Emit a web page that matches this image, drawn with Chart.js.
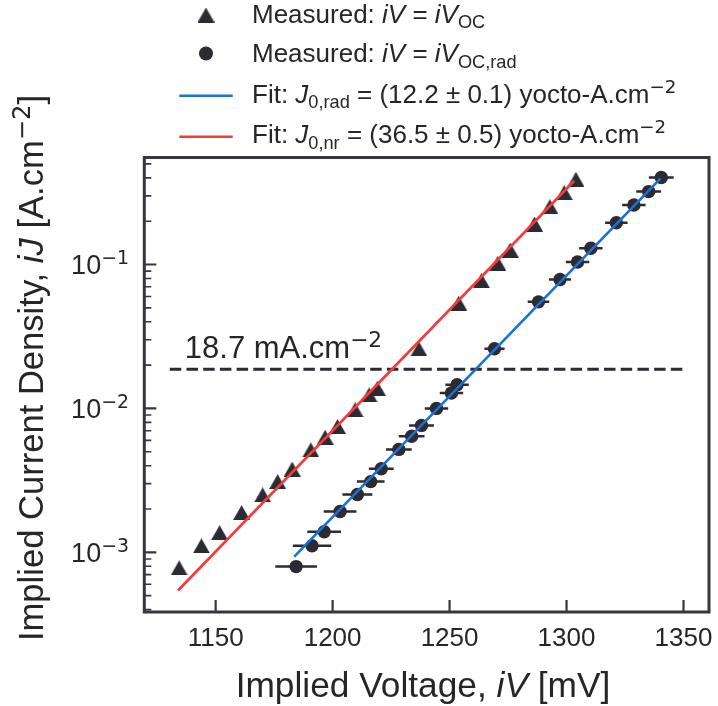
<!DOCTYPE html>
<html><head><meta charset="utf-8">
<script src="https://cdn.jsdelivr.net/npm/chart.js@4.4.1/dist/chart.umd.min.js"></script>
<style>html,body{margin:0;padding:0;background:#fff;}canvas{display:block;}</style>
</head><body>
<canvas id="c" width="718" height="706"></canvas>
<script>
// ---- data ----
const vocV = [1134.4,1143.9,1151.7,1161.1,1170.1,1176.5,1182.7,1190.7,1196.8,1202.1,1209.6,1215.6,1219.1,1236.9,1253.9,1263.6,1270.6,1275.9,1286.3,1292.9,1299.0,1304.0];
const vocJ = [7.8e-4,1.11e-3,1.37e-3,1.89e-3,2.51e-3,3.10e-3,3.79e-3,5.15e-3,6.31e-3,7.48e-3,9.77e-3,1.24e-2,1.38e-2,0.0259,0.0538,0.0772,0.102,0.126,0.191,0.252,0.316,0.391];
const radV = [1184.4,1191.2,1196.4,1203.2,1210.6,1216.3,1220.8,1228.3,1233.8,1238.0,1244.4,1250.8,1253.2,1269.2,1288.0,1297.2,1304.7,1310.4,1321.3,1328.8,1335.1,1340.5];
const radVerr = [8.9,8.2,7.2,7.0,6.4,5.9,5.3,5.5,5.5,5.3,5.0,5.0,5.0,4.3,4.6,4.7,5.0,5.0,4.8,5.0,5.3,5.3];
const radJ = [7.96e-4,1.11e-3,1.39e-3,1.92e-3,2.52e-3,3.10e-3,3.81e-3,5.19e-3,6.41e-3,7.62e-3,1.0e-2,1.28e-2,1.46e-2,0.026,0.055,0.0787,0.104,0.1296,0.195,0.259,0.321,0.402];
const fitNrV = [1133.9,1303.3];
const fitNrJ = [5.43e-4,0.382];
const fitRadV = [1183.6,1340.2];
const fitRadJ = [9.35e-4,0.397];
const threshV = [1130.4,1350.1];
const threshJ = [0.0187,0.0187];
const xTicks = [1150,1200,1250,1300,1350];
const yMajor = [1e-3,1e-2,1e-1];
const yMajorExp = ['\u22123','\u22122','\u22121'];
const yMinor = [4e-4,5e-4,6e-4,7e-4,8e-4,9e-4,2e-3,3e-3,4e-3,5e-3,6e-3,7e-3,8e-3,9e-3,2e-2,3e-2,4e-2,5e-2,6e-2,7e-2,8e-2,9e-2,2e-1,3e-1,4e-1,5e-1];
const xRange = [1119.5,1360.9];
const yRange = [3.85e-4,0.554];

// ---- styles ----
const FONT = '"Liberation Sans", Arial, sans-serif';
const MATH = '"DejaVu Sans", sans-serif';
const TXT = '#262626', INK = '#2b2b31', FRAME = '#36363c';
const RED = '#f53a3a', BLUE = '#1c6fd8';

function triImg(w,h,color){const c=document.createElement('canvas');c.width=w;c.height=h;const g=c.getContext('2d');g.fillStyle=color;g.beginPath();g.moveTo(w/2,0);g.lineTo(w,h);g.lineTo(0,h);g.closePath();g.fill();return c;}
const tri = triImg(17,15,INK);

function segFont(st,size){
  if(st==='sup') return {font:(size*0.7)+'px '+MATH,dy:-size*0.38};
  if(st==='sub') return {font:(size*0.7)+'px '+FONT,dy:size*0.22};
  return {font:(st==='i'?'italic ':'')+size+'px '+FONT,dy:0};
}
function richWidth(ctx,segs,size){let w=0;for(const [t,st] of segs){ctx.font=segFont(st,size).font;w+=ctx.measureText(t).width;}return w;}
function drawRich(ctx,segs,x,y,size){let cx=x;ctx.textBaseline='alphabetic';ctx.textAlign='left';for(const [t,st] of segs){const f=segFont(st,size);ctx.font=f.font;ctx.fillText(t,cx,y+f.dy);cx+=ctx.measureText(t).width;}return cx-x;}

const errData=[];
radV.forEach((v,i)=>{errData.push({x:v-radVerr[i],y:radJ[i]},{x:v+radVerr[i],y:radJ[i]},{x:v,y:null});});
const pts=(xs,ys)=>xs.map((v,i)=>({x:v,y:ys[i]}));

const deco = {
  id:'deco',
  afterDraw(chart){
    const ctx=chart.ctx, a=chart.chartArea, xs=chart.scales.x, ys=chart.scales.y;
    ctx.save();
    // frame
    ctx.strokeStyle=FRAME; ctx.lineWidth=3;
    ctx.strokeRect(a.left,a.top,a.right-a.left,a.bottom-a.top);
    // ticks (inward)
    ctx.lineWidth=2.2;
    ctx.beginPath();
    for(const t of xTicks){const p=xs.getPixelForValue(t);ctx.moveTo(p,a.bottom);ctx.lineTo(p,a.bottom-12);}
    for(const t of yMajor){const p=ys.getPixelForValue(t);ctx.moveTo(a.left,p);ctx.lineTo(a.left+12,p);}
    ctx.stroke();
    ctx.lineWidth=1.6;ctx.beginPath();
    for(const t of yMinor){const p=ys.getPixelForValue(t);ctx.moveTo(a.left,p);ctx.lineTo(a.left+7,p);}
    ctx.stroke();
    // tick labels
    ctx.fillStyle=TXT;
    ctx.font='26px '+FONT;ctx.textAlign='center';ctx.textBaseline='alphabetic';
    for(const t of xTicks){ctx.fillText(String(t),xs.getPixelForValue(t),646);}
    yMajor.forEach((t,i)=>{
      const p=ys.getPixelForValue(t);
      const segs=[['10','n'],[yMajorExp[i],'sup']];
      const w=richWidth(ctx,segs,27);
      drawRich(ctx,segs,129-w,p+9.5,27);
    });
    // axis titles
    const xt=[['Implied Voltage, ','n'],['iV','i'],[' [mV]','n']];
    const xw=richWidth(ctx,xt,35.3);
    drawRich(ctx,xt,423-xw/2,697,35.3);
    const yt=[['Implied Current Density, ','n'],['iJ','i'],[' [A.cm','n'],['\u22122','sup'],[']','n']];
    const yw=richWidth(ctx,yt,34.6);
    ctx.save();ctx.translate(43,368);ctx.rotate(-Math.PI/2);drawRich(ctx,yt,-yw/2,0,34.6);ctx.restore();
    // annotation
    const ax=xs.getPixelForValue(threshV[0])+15, ay=ys.getPixelForValue(threshJ[0])-11;
    drawRich(ctx,[['18.7 mA.cm','n'],['\u22122','sup']],ax,ay,31);
    // legend
    const lx=252, ls=26;
    ctx.drawImage(tri,206-tri.width/2,15-tri.height/2);
    ctx.fillStyle=INK;ctx.beginPath();ctx.arc(206,53.5,7,0,Math.PI*2);ctx.fill();
    ctx.lineWidth=2.6;ctx.strokeStyle=BLUE;ctx.beginPath();ctx.moveTo(179.3,95.7);ctx.lineTo(232.7,95.7);ctx.stroke();
    ctx.strokeStyle=RED;ctx.beginPath();ctx.moveTo(179.3,136.7);ctx.lineTo(232.7,136.7);ctx.stroke();
    ctx.fillStyle=TXT;
    drawRich(ctx,[['Measured: ','n'],['iV','i'],[' = ','n'],['iV','i'],['OC','sub']],lx,22.5,ls);
    drawRich(ctx,[['Measured: ','n'],['iV','i'],[' = ','n'],['iV','i'],['OC,rad','sub']],lx,62,ls);
    drawRich(ctx,[['Fit: ','n'],['J','i'],['0,rad','sub'],[' = (12.2 \u00b1 0.1) yocto-A.cm','n'],['\u22122','sup']],lx,102.5,ls);
    drawRich(ctx,[['Fit: ','n'],['J','i'],['0,nr','sub'],[' = (36.5 \u00b1 0.5) yocto-A.cm','n'],['\u22122','sup']],lx,143,ls);
    ctx.restore();
  }
};

new Chart(document.getElementById('c'),{
  type:'scatter',
  data:{datasets:[
    {label:'threshold',data:pts(threshV,threshJ),showLine:true,borderColor:INK,borderWidth:3,borderDash:[11.5,5.2],pointRadius:0,pointHoverRadius:0,order:4},
    {label:'xerr',data:errData,showLine:true,spanGaps:false,borderColor:INK,borderWidth:2.5,pointRadius:0,pointHoverRadius:0,order:3},
    {label:'Measured iV = iVOC',data:pts(vocV,vocJ),pointStyle:tri,pointRadius:8,showLine:false,order:2},
    {label:'Measured iV = iVOC,rad',data:pts(radV,radJ),pointStyle:'circle',pointRadius:6.7,backgroundColor:INK,borderWidth:0,showLine:false,order:2},
    {label:'Fit J0,rad',data:pts(fitRadV,fitRadJ),showLine:true,borderColor:BLUE,borderWidth:2.6,pointRadius:0,pointHoverRadius:0,order:1},
    {label:'Fit J0,nr',data:pts(fitNrV,fitNrJ),showLine:true,borderColor:RED,borderWidth:2.6,pointRadius:0,pointHoverRadius:0,order:1}
  ]},
  options:{
    responsive:false,animation:false,devicePixelRatio:1,events:[],
    layout:{padding:{left:144.3,top:157.5,right:6.7,bottom:94}},
    plugins:{legend:{display:false},tooltip:{enabled:false}},
    scales:{
      x:{type:'linear',min:xRange[0],max:xRange[1],display:false},
      y:{type:'logarithmic',min:yRange[0],max:yRange[1],display:false}
    }
  },
  plugins:[deco]
});
</script>
</body></html>
